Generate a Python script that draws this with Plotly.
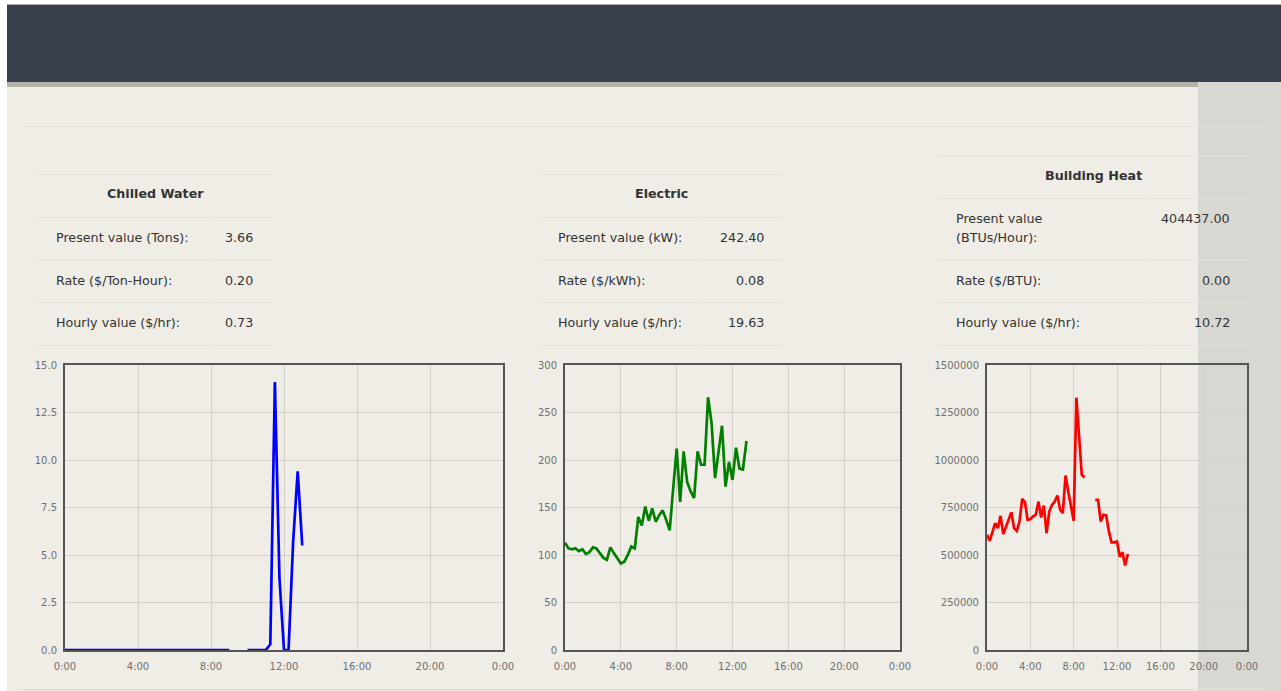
import pandas as pd
import plotly.graph_objects as go

W, H = 1281, 691

# ---------------- data ----------------
times = pd.date_range("2024-01-01 00:00", "2024-01-01 13:00", freq="15min")

chilled_water = [0, 0, 0, 0, 0, 0, 0, 0, 0, 0, 0, 0, 0, 0, 0, 0, 0, 0, 0, 0,
                 0, 0, 0, 0, 0, 0, 0, 0, 0, 0, 0, 0, 0, 0, 0, 0, 0,
                 None, None, None,
                 0, 0, 0, 0, 0, 0.3, 14.1, 3.8, 0, 0, 5.7, 9.4, 5.5]

electric = [113, 107, 106, 107, 104, 106, 101, 103, 108, 107, 102, 97, 95, 108,
            102, 96, 91, 93, 100, 109, 107, 140, 131, 151, 136, 149, 135, 142,
            147, 137, 126, 170, 212, 156, 209, 177, 167, 160, 209, 195, 195, 266,
            239, 181, 211, 236, 172, 198, 179, 213, 191, 190, 220]

building_heat = [606000, 575000, 620000, 668000, 641000, 706000, 610000, 650000,
                 694000, 725000, 641000, 627000, 676000, 795000, 778000, 685000,
                 689000, 703000, 711000, 781000, 697000, 760000, 615000, 729000,
                 764000, 781000, 813000, 738000, 720000, 918000, 834000, 755000,
                 680000, 1328000, 1123000, 922000, 908000,
                 None, None, None,
                 790000, 790000, 676000, 711000, 708000, 624000, 566000, 566000,
                 571000, 491000, 515000, 445000, 505000]

titles = ["Chilled Water", "Electric", "Building Heat"]
rows_chilled = [("Present value (Tons):", "3.66"), ("Rate ($/Ton-Hour):", "0.20"),
                ("Hourly value ($/hr):", "0.73")]
rows_electric = [("Present value (kW):", "242.40"), ("Rate ($/kWh):", "0.08"),
                 ("Hourly value ($/hr):", "19.63")]
rows_heat = [("Present value<br>(BTUs/Hour):", "404437.00"), ("Rate ($/BTU):", "0.00"),
             ("Hourly value ($/hr):", "10.72")]

y_ranges = [[0, 15], [0, 300], [0, 1500000]]
y_dticks = [2.5, 50, 250000]
y_formats = [".1f", "d", "d"]
colors = ["#0000ff", "#008000", "#ff0000"]

# ---------------- helpers ----------------
def px(x):
    return x / W

def py(y):
    return 1 - y / H

PAGE_BG = "#efede6"
TEXT = "#333333"
FONT = "DejaVu Sans"

fig = go.Figure()

series = [chilled_water, electric, building_heat]
xdoms = [(65, 503), (565, 900), (987, 1247)]
for i, vals in enumerate(series):
    sfx = "" if i == 0 else str(i + 1)
    fig.add_trace(go.Scatter(
        x=times, y=vals, mode="lines",
        line=dict(color=colors[i], width=2.7),
        connectgaps=False, showlegend=False, hoverinfo="skip",
        xaxis="x" + sfx, yaxis="y" + sfx,
    ))

layout_axes = {}
for i in range(3):
    sfx = "" if i == 0 else str(i + 1)
    layout_axes["xaxis" + sfx] = dict(
        domain=[px(xdoms[i][0]), px(xdoms[i][1])],
        anchor="y" + sfx, type="date",
        range=["2024-01-01 00:00", "2024-01-02 00:00"],
        tick0="2024-01-01 00:00", dtick=4 * 3600 * 1000,
        tickformat="%-H:%M",
        showgrid=True, gridcolor="#d2d0c8", gridwidth=1,
        showline=True, mirror=True, linecolor="#555555", linewidth=2,
        zeroline=False, ticks="", ticklabelstandoff=6,
        tickfont=dict(family=FONT, size=10, color="#707070"),
        layer="below traces", fixedrange=True, automargin=False,
    )
    layout_axes["yaxis" + sfx] = dict(
        domain=[py(650), py(365)],
        anchor="x" + sfx,
        range=y_ranges[i], dtick=y_dticks[i], tick0=0, tickformat=y_formats[i],
        showgrid=True, gridcolor="#d2d0c8", gridwidth=1,
        showline=True, mirror=True, linecolor="#555555", linewidth=2,
        zeroline=False, ticks="", ticklabelstandoff=4,
        tickfont=dict(family=FONT, size=10, color="#707070"),
        layer="below traces", fixedrange=True, automargin=False,
    )

shapes = []
def rect(x0, y0, x1, y1, color):
    shapes.append(dict(type="rect", xref="paper", yref="paper",
                       x0=px(x0), x1=px(x1), y0=py(y1), y1=py(y0),
                       fillcolor=color, line=dict(width=0), layer="below"))

def hline(x0, x1, y, color="#e2e0d8", width=1):
    shapes.append(dict(type="line", xref="paper", yref="paper",
                       x0=px(x0), x1=px(x1), y0=py(y), y1=py(y),
                       line=dict(color=color, width=width), layer="below"))

# page structure
rect(7, 87, 1198, 691, PAGE_BG)
rect(1198, 82, 1281, 691, "#d8d7d2")
rect(7, 5, 1281, 82, "#393f4d")
rect(7, 82, 1198, 87, "#b4b3a7")
hline(7, 1281, 4.5, "#a8a8a8", 1)
hline(22, 1265, 126.5)
hline(18, 1266, 689.5)

annotations = []
def text(x, y, s, anchor="left", bold=False, size=12.7):
    annotations.append(dict(
        xref="paper", yref="paper", x=px(x), y=py(y), text=s if not bold else "<b>%s</b>" % s,
        showarrow=False, xanchor=anchor, yanchor="middle", align="left",
        font=dict(family=FONT, size=size, color=TEXT),
    ))

# Chilled water table
tx0, tx1, gap = 37, 272, 208
hline(tx0, tx1, 174.5)
for yy in (217.5, 259.5, 302.5, 345.5):
    hline(tx0, gap, yy)
    hline(gap + 2, tx1, yy)
text(155, 194, titles[0], "center", bold=True)
for (lab, val), yy in zip(rows_chilled, (237, 280, 322.7)):
    text(54, yy, lab)
    text(255, yy, val, "right")

# Electric table
tx0, tx1, gap = 541, 782, 702
hline(tx0, tx1, 174.5)
for yy in (217.5, 259.5, 302.5, 345.5):
    hline(tx0, gap, yy)
    hline(gap + 2, tx1, yy)
text(661.7, 194, titles[1], "center", bold=True)
for (lab, val), yy in zip(rows_electric, (237, 280, 322.7)):
    text(556, yy, lab)
    text(765.5, yy, val, "right")

# Building heat table
tx0, tx1, gap = 937, 1248, 1144
hline(tx0, tx1, 155.5)
for yy in (198.5, 259.5, 302.5, 345.5):
    hline(tx0, gap, yy)
    hline(gap + 2, tx1, yy)
text(1093.3, 175, titles[2], "center", bold=True)
lab0 = rows_heat[0][0].split("<br>")
text(954, 218.3, lab0[0])
text(954, 237.3, lab0[1])
text(1232, 218.3, rows_heat[0][1], "right")
for (lab, val), yy in zip(rows_heat[1:], (280, 322.7)):
    text(954, yy, lab)
    text(1232, yy, val, "right")

fig.update_layout(
    width=W, height=H,
    margin=dict(l=0, r=0, t=0, b=0, pad=0),
    paper_bgcolor="#ffffff",
    plot_bgcolor="rgba(0,0,0,0)",
    shapes=shapes, annotations=annotations,
    showlegend=False,
    **layout_axes,
)

fig.write_html(
    "out.html",
    config={"displayModeBar": False, "responsive": False},
    post_script="document.body.style.margin='0';document.body.style.overflow='hidden';"
                "document.documentElement.style.overflow='hidden';",
)
